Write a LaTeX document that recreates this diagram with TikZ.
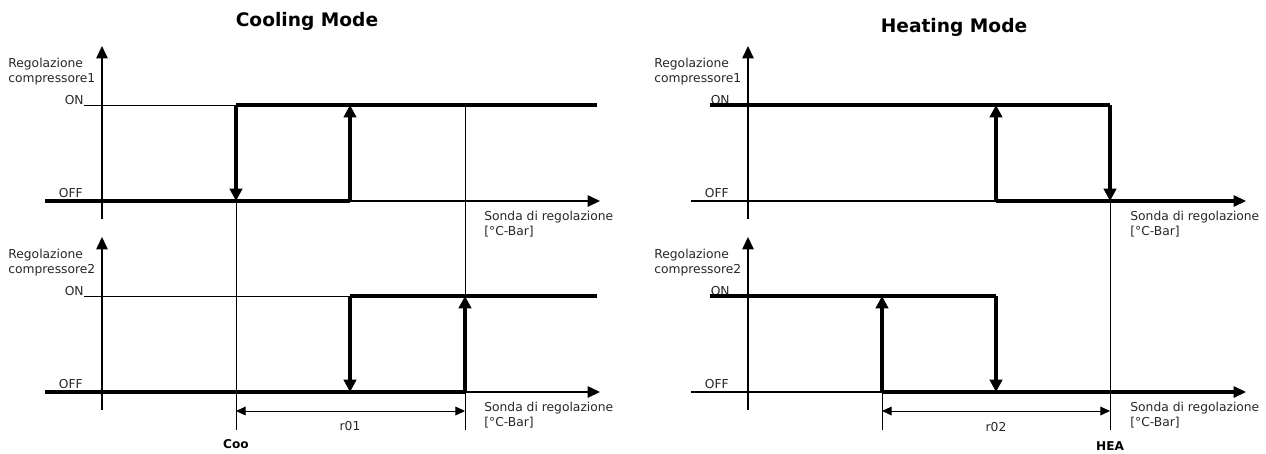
\documentclass[tikz,border=0pt]{standalone}
\usepackage{fontspec}
\setmainfont{DejaVu Sans}
\usetikzlibrary{arrows.meta}

\tikzset{
  thinline/.style={line width=0.5pt},
  axisline/.style={line width=0.7pt,-{Triangle[length=7pt,width=6.5pt]}},
  stateline/.style={line width=2pt},
  switchline/.style={line width=2pt,-{Triangle[length=7pt,width=7pt]}},
  dimline/.style={line width=0.5pt,{Triangle[length=5.5pt,width=5pt]}-{Triangle[length=5.5pt,width=5pt]}},
  lbl/.style={font=\fontsize{7}{8.4}\selectfont,inner sep=0pt,text=black!85},
  boldlbl/.style={font=\fontsize{6.9}{8}\selectfont\bfseries,inner sep=0pt,anchor=base},
  titlelbl/.style={font=\fontsize{10.6}{12}\selectfont\bfseries,inner sep=0pt,anchor=base}
}

\begin{document}
\begin{tikzpicture}[x=0.02cm,y=-0.02cm]
    % Picture frame in pixel units (y grows downwards)
    \useasboundingbox (0,0) rectangle (1266,453);

    % Titles
    \node[titlelbl] (coolTitle) at (307,26) {Cooling Mode};
    \node[titlelbl] (heatTitle) at (954,32) {Heating Mode};

    % Axes and axis labels, panel offset 646 (x), row offset 191 (y)
    \foreach \px/\n in {0/c,646/h}{
      \foreach \py/\k in {0/1,191/2}{
        \coordinate (\n\k yb) at (102+\px,219+\py);
        \coordinate (\n\k yt) at (102+\px,46+\py);
        \coordinate (\n\k xl) at (45+\px,201+\py);
        \coordinate (\n\k xr) at (600+\px,201+\py);
        \draw[axisline] (\n\k yb) -- (\n\k yt);% Vertical axis
        \draw[axisline] (\n\k xl) -- (\n\k xr);% Horizontal axis
        \node[lbl,anchor=base west] (\n\k reg) at (8+\px,67+\py) {Regolazione};
        \node[lbl,anchor=base west] (\n\k comp) at (8+\px,82+\py) {compressore\k};
        \node[lbl,anchor=base east] (\n\k on) at (84+\px,104+\py) {ON};
        \node[lbl,anchor=base east] (\n\k off) at (83+\px,197+\py) {OFF};
        \node[lbl,anchor=base west] (\n\k sonda) at (484+\px,220+\py) {Sonda di regolazione};
        \node[lbl,anchor=base west] (\n\k unit) at (484+\px,235+\py) {[°C-Bar]};
      }
    }

    % Cooling mode, compressor 1
    \coordinate (cA) at (236,105);
    \coordinate (cB) at (236,201);
    \coordinate (cC) at (350,201);
    \coordinate (cD) at (350,105);
    \draw[thinline] (84,105) -- (cA);
    \draw[stateline] (c1xl) -- (cC);
    \draw[stateline] (cA) -- (597,105);
    \draw[switchline] (cA) -- (cB);
    \draw[switchline] (cC) -- (cD);

    % Cooling mode, compressor 2
    \coordinate (cE) at (350,296);
    \coordinate (cF) at (350,392);
    \coordinate (cG) at (465,392);
    \coordinate (cH) at (465,296);
    \draw[thinline] (84,296) -- (cE);
    \draw[stateline] (cE) -- (597,296);
    \draw[stateline] (c2xl) -- (cG);
    \draw[switchline] (cE) -- (cF);
    \draw[switchline] (cG) -- (cH);

    % Cooling guides and differential r01
    \coordinate (cooBot) at (236,430);
    \coordinate (r01Bot) at (465,430);
    \draw[thinline] (cB) -- (cooBot);
    \draw[thinline] (465,105) -- (r01Bot);
    \draw[dimline] (236,411) -- (465,411);
    \node[lbl,anchor=base] (r01) at (350,430) {r01};
    \node[boldlbl] (coo) at (236,448) {Coo};

    % Heating mode, compressor 1
    \coordinate (hA) at (1110,105);
    \coordinate (hB) at (1110,201);
    \coordinate (hC) at (996,201);
    \coordinate (hD) at (996,105);
    \draw[stateline] (710,105) -- (hA);
    \draw[stateline] (hC) -- (1238,201);
    \draw[switchline] (hA) -- (hB);
    \draw[switchline] (hC) -- (hD);

    % Heating mode, compressor 2
    \coordinate (hE) at (996,296);
    \coordinate (hF) at (996,392);
    \coordinate (hG) at (882,392);
    \coordinate (hH) at (882,296);
    \draw[stateline] (710,296) -- (hE);
    \draw[stateline] (hG) -- (1238,392);
    \draw[switchline] (hE) -- (hF);
    \draw[switchline] (hG) -- (hH);

    % Heating guides and differential r02
    \coordinate (heaBot) at (1110,430);
    \coordinate (r02Bot) at (882,430);
    \draw[thinline] (hB) -- (heaBot);
    \draw[thinline] (hG) -- (r02Bot);
    \draw[dimline] (882,411) -- (1110,411);
    \node[lbl,anchor=base] (r02) at (996,431) {r02};
    \node[boldlbl] (hea) at (1110,450) {HEA};
\end{tikzpicture}
\end{document}
